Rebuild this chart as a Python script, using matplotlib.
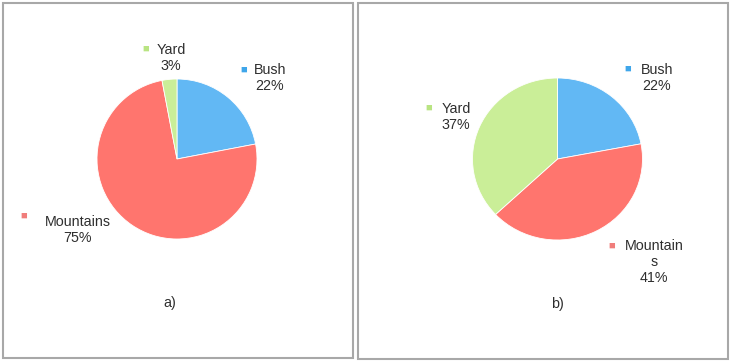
import matplotlib.pyplot as plt
from matplotlib.patches import Rectangle

plt.rcParams['font.family'] = ['Liberation Sans', 'DejaVu Sans']

# Data
categories = ['Bush', 'Mountains', 'Yard']
share_a = [22, 75, 3]
share_b = [22, 41, 37]
colors = ['#62b8f4', '#ff756e', '#caee98']
marker_colors = ['#3fa6ea', '#f07d7b', '#b9e482']

W, H = 731, 363
fig = plt.figure(figsize=(W / 100, H / 100), dpi=100)


def px_axes(cx, cy, rx, ry):
    # axes box in pixel coords (origin top-left)
    return fig.add_axes([(cx - rx) / W, (H - cy - ry) / H, 2 * rx / W, 2 * ry / H])


def label(x, y, lines, mx, my, color):
    fig.text(x / W, 1 - y / H, lines, ha='center', va='center', fontsize=10.3,
             color='#2e2e2e', linespacing=1.15)
    fig.text(mx / W, 1 - my / H, '\u25a0', ha='center', va='center', fontsize=8,
             color=color)


# panel frames
fig.patches.append(Rectangle((3 / W, 1 - 358 / H), 350 / W, 355 / H, transform=fig.transFigure,
                             fill=False, ec='#a8a8a8', lw=1.5))
fig.patches.append(Rectangle((358 / W, 1 - 359 / H), 370 / W, 356 / H, transform=fig.transFigure,
                             fill=False, ec='#a8a8a8', lw=1.5))

# a)
ax1 = px_axes(177, 159, 80, 80)
ax1.pie(share_a, colors=colors, startangle=90, counterclock=False,
        wedgeprops=dict(linewidth=0.6, edgecolor='white'))
ax1.set_aspect('auto')
ax1.set_xlim(-1, 1)
ax1.set_ylim(-1, 1)

label(270, 78, f'{categories[0]}\n{share_a[0]}%', 244, 70, marker_colors[0])
label(78, 230, f'{categories[1]}\n{share_a[1]}%', 24, 216, marker_colors[1])
label(171, 58, f'{categories[2]}\n{share_a[2]}%', 146, 49, marker_colors[2])
fig.text(170 / W, 1 - 303 / H, 'a)', ha='center', va='center', fontsize=10.3, color='#2e2e2e')

# b)
ax2 = px_axes(557.5, 159, 85, 81)
ax2.pie(share_b, colors=colors, startangle=90, counterclock=False,
        wedgeprops=dict(linewidth=0.6, edgecolor='white'))
ax2.set_aspect('auto')
ax2.set_xlim(-1, 1)
ax2.set_ylim(-1, 1)

label(657, 78, f'{categories[0]}\n{share_b[0]}%', 628, 69, marker_colors[0])
label(654, 262, f'Mountain\ns\n{share_b[1]}%', 612, 246, marker_colors[1])
label(456, 117, f'{categories[2]}\n{share_b[2]}%', 429, 108, marker_colors[2])
fig.text(557 / W, 1 - 304 / H, 'b)', ha='center', va='center', fontsize=10.3, color='#2e2e2e')

fig.savefig('out.png', dpi=100)
